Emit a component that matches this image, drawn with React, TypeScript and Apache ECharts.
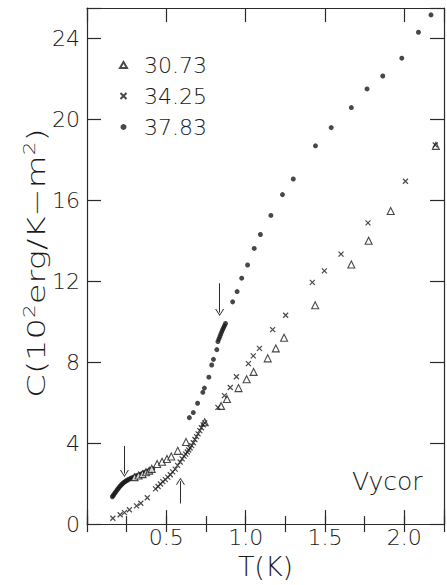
import React, { useEffect, useRef } from 'react';
import * as echarts from 'echarts';

// ---- data (T in K, C in 10^2 erg/K-m^2) ----
const series30_73: number[][] = [
  [0.300, 2.32], [0.325, 2.40], [0.350, 2.47], [0.372, 2.56], [0.392, 2.64], [0.408, 2.73],
  [0.442, 2.97], [0.473, 3.08], [0.504, 3.22], [0.531, 3.34], [0.572, 3.62], [0.624, 4.06],
  [0.742, 5.03], [0.845, 5.84], [0.882, 6.18], [0.955, 6.72], [1.006, 7.16], [1.050, 7.52],
  [1.139, 8.19], [1.190, 8.68], [1.242, 9.21], [1.438, 10.81], [1.666, 12.83], [1.775, 14.00],
  [1.914, 15.47], [2.199, 18.69],
];

const series34_25: number[][] = [
  [0.163, 0.29], [0.209, 0.46], [0.236, 0.57], [0.267, 0.71], [0.312, 0.90], [0.339, 1.03],
  [0.380, 1.30], [0.432, 1.74], [0.448, 1.86], [0.463, 1.98], [0.478, 2.10], [0.494, 2.20],
  [0.509, 2.32], [0.525, 2.44], [0.540, 2.58], [0.556, 2.72], [0.571, 2.90], [0.587, 3.07],
  [0.600, 3.22], [0.612, 3.36], [0.622, 3.46], [0.632, 3.56], [0.641, 3.66], [0.650, 3.76],
  [0.660, 3.88], [0.670, 4.02], [0.680, 4.18], [0.690, 4.32], [0.700, 4.46], [0.711, 4.62],
  [0.721, 4.76], [0.732, 4.90], [0.742, 5.00], [0.825, 5.77], [0.866, 6.35], [0.903, 6.75],
  [0.942, 7.28], [1.017, 7.93], [1.048, 8.31], [1.087, 8.68], [1.170, 9.61], [1.252, 10.32],
  [1.420, 11.94], [1.496, 12.51], [1.601, 13.34], [1.771, 14.88], [2.007, 16.94], [2.195, 18.73],
];

const series37_83: number[][] = [
  [0.160, 1.35], [0.165, 1.41], [0.170, 1.47], [0.177, 1.55], [0.184, 1.62], [0.191, 1.70],
  [0.198, 1.77], [0.205, 1.84], [0.212, 1.90], [0.219, 1.96], [0.226, 2.01], [0.233, 2.06],
  [0.240, 2.10], [0.248, 2.14], [0.256, 2.18], [0.265, 2.22], [0.275, 2.26], [0.285, 2.29],
  [0.296, 2.33], [0.307, 2.37], [0.318, 2.40], [0.330, 2.44], [0.342, 2.48], [0.354, 2.52],
  [0.366, 2.56], [0.378, 2.60], [0.390, 2.64], [0.402, 2.68], [0.414, 2.73],
  [0.645, 5.26], [0.670, 5.51], [0.697, 5.97], [0.730, 6.51], [0.740, 6.72], [0.768, 7.26],
  [0.786, 7.86], [0.797, 8.14], [0.818, 8.62], [0.825, 9.02], [0.831, 9.14], [0.837, 9.26],
  [0.843, 9.38], [0.849, 9.50], [0.855, 9.61], [0.861, 9.71], [0.867, 9.81], [0.873, 9.91],
  [0.918, 10.98], [0.946, 11.49], [0.975, 12.15], [1.012, 12.80], [1.054, 13.62],
  [1.093, 14.31], [1.159, 15.25], [1.232, 16.28], [1.300, 17.05], [1.440, 18.69],
  [1.539, 19.59], [1.666, 20.58], [1.765, 21.50], [1.864, 22.14], [1.984, 23.02],
  [2.089, 24.30], [2.168, 25.16],
];

const legendNames = ['30.73', '34.25', '37.83'];
const xTickLabels = ['0.5', '1.0', '1.5', '2.0'];
const yTickLabels = ['0', '4', '8', '12', '16', '20', '24'];

// arrows: [T, C start, C tip]
const arrows: number[][] = [
  [0.236, 3.86, 2.50],
  [0.589, 1.02, 2.12],
  [0.836, 11.90, 10.45],
];

const INK = '#1a1a1a';
const AXIS = '#2a2a2a';
const FONT = "'DejaVu Sans', sans-serif";

const xBase = { type: 'value', min: 0, max: 2.25, splitLine: { show: false } };
const yBase = { type: 'value', min: 0, max: 25.5, interval: 4, splitLine: { show: false } };

const option: any = {
  animation: false,
  backgroundColor: '#fff',
  grid: { left: 87, top: 8, right: -3, bottom: 57, containLabel: false },
  legend: {
    data: legendNames,
    orient: 'vertical',
    left: 113,
    top: 49,
    itemWidth: 7,
    itemHeight: 6,
    itemGap: 9,
    textStyle: { fontSize: 22, fontFamily: FONT, color: INK, fontWeight: 200, padding: [0, 0, 0, 12] },
    selectedMode: false,
  },
  xAxis: [
    {
      ...xBase,
      position: 'bottom',
      interval: 0.5,
      axisLine: { show: true, onZero: false, lineStyle: { color: AXIS, width: 1.2 } },
      axisTick: { show: true, inside: true, length: 14, lineStyle: { color: AXIS, width: 1.2 } },
      axisLabel: {
        show: true,
        margin: 2,
        fontSize: 22,
        fontFamily: FONT,
        fontWeight: 200,
        color: INK,
        formatter: (v: number) => {
          const s = v.toFixed(1);
          return xTickLabels.includes(s) && Math.abs(v * 2 - Math.round(v * 2)) < 1e-6 ? s : '';
        },
      },
      name: 'T(K)',
      nameLocation: 'middle',
      nameGap: 27,
      nameTextStyle: { fontSize: 27, fontFamily: FONT, fontWeight: 200, color: INK },
    },
    {
      ...xBase,
      position: 'bottom',
      interval: 0.25,
      axisLine: { show: false },
      axisTick: { show: true, inside: true, length: 8, lineStyle: { color: AXIS, width: 1.2 } },
      axisLabel: { show: false },
    },
    {
      ...xBase,
      position: 'top',
      interval: 0.5,
      axisLine: { show: true, onZero: false, lineStyle: { color: AXIS, width: 1.2 } },
      axisTick: { show: true, inside: true, length: 14, lineStyle: { color: AXIS, width: 1.2 } },
      axisLabel: { show: false },
    },
    {
      ...xBase,
      position: 'top',
      interval: 0.25,
      axisLine: { show: false },
      axisTick: { show: true, inside: true, length: 8, lineStyle: { color: AXIS, width: 1.2 } },
      axisLabel: { show: false },
    },
  ],
  yAxis: [
    {
      ...yBase,
      position: 'left',
      axisLine: { show: true, onZero: false, lineStyle: { color: AXIS, width: 1.2 } },
      axisTick: { show: true, inside: true, length: 14, lineStyle: { color: AXIS, width: 1.2 } },
      axisLabel: {
        show: true,
        margin: 7,
        fontSize: 22,
        fontFamily: FONT,
        fontWeight: 200,
        color: INK,
        formatter: (v: number) => {
          const s = String(Math.round(v));
          return Math.abs(v - Math.round(v)) < 1e-6 && yTickLabels.includes(s) ? s : '';
        },
      },
    },
    {
      ...yBase,
      position: 'right',
      axisLine: { show: true, onZero: false, lineStyle: { color: AXIS, width: 1.2 } },
      axisTick: { show: true, inside: true, length: 14, lineStyle: { color: AXIS, width: 1.2 } },
      axisLabel: { show: false },
    },
  ],
  graphic: [
    {
      type: 'text',
      x: 36,
      y: 263,
      rotation: Math.PI / 2,
      scaleX: 1.35,
      silent: true,
      style: {
        text: '{a|C(10}{s|2}{a|erg/K\u2212m}{s|2}{a|)}',
        align: 'center',
        verticalAlign: 'middle',
        fill: INK,
        rich: {
          a: { fontSize: 25, fontFamily: FONT, fontWeight: 200, fill: INK },
          s: { fontSize: 16, fontFamily: FONT, fontWeight: 200, fill: INK, padding: [0, 0, 14, 0] },
        },
      },
    },
    {
      type: 'text',
      left: 352,
      top: 469,
      silent: true,
      style: { text: 'Vycor', fontSize: 25, fontFamily: FONT, fontWeight: 200, fill: INK },
    },
  ],
  series: [
    {
      name: '37.83',
      type: 'scatter',
      xAxisIndex: 0,
      yAxisIndex: 0,
      data: series37_83,
      symbol: 'circle',
      symbolSize: 5,
      itemStyle: { color: INK },
      emphasis: { disabled: true },
      markLine: {
        silent: true,
        animation: false,
        symbol: ['none', 'path://M5,0L10,8L8.8,8L5,1.8L1.2,8L0,8Z'],
        symbolSize: [9, 7],
        label: { show: false },
        lineStyle: { color: AXIS, width: 1, type: 'solid' },
        data: arrows.map((a) => [{ coord: [a[0], a[1]] }, { coord: [a[0], a[2]] }]),
      },
    },
    {
      name: '30.73',
      type: 'scatter',
      xAxisIndex: 0,
      yAxisIndex: 0,
      data: series30_73,
      symbol: 'triangle',
      symbolSize: 7,
      itemStyle: { color: '#fff', borderColor: INK, borderWidth: 1.1 },
      emphasis: { disabled: true },
    },
    {
      name: '34.25',
      type: 'scatter',
      xAxisIndex: 0,
      yAxisIndex: 0,
      data: series34_25,
      symbol: 'path://M0,0L10,10M10,0L0,10',
      symbolSize: 5,
      itemStyle: { color: 'none', borderColor: INK, borderWidth: 1.2 },
      emphasis: { disabled: true },
    },
  ],
};

export default function App() {
  const ref = useRef<HTMLDivElement>(null);
  useEffect(() => {
    if (!ref.current) return;
    const chart = echarts.init(ref.current, null, { renderer: 'svg' });
    chart.setOption(option);
    return () => chart.dispose();
  }, []);
  return (
    <div
      ref={ref}
      style={{ position: 'absolute', left: 0, top: 0, width: 447, height: 585, background: '#fff' }}
    />
  );
}
